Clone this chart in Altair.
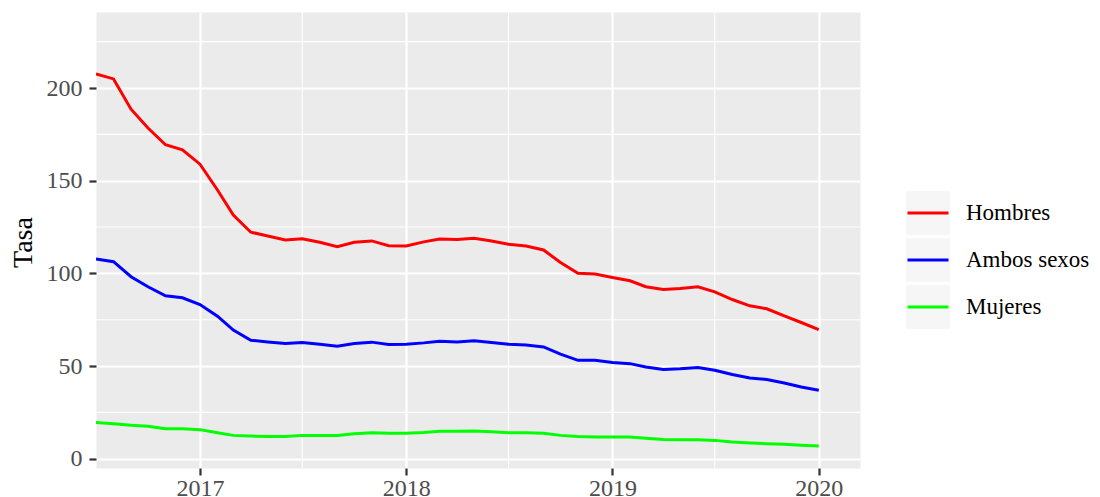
import altair as alt
import pandas as pd

# ---- data (monthly, Jul 2016 - Jan 2020) ----
meses = [d.strftime("%Y-%m-%d") for d in pd.date_range("2016-07-01", periods=43, freq="MS")]

hombres = [207.6, 204.9, 188.6, 178.4, 169.4, 166.7, 158.9, 145.0, 131.5, 122.2, 120.2, 118.0,
           118.7, 116.8, 114.4, 116.8, 117.5, 114.9,
           114.8, 117.0, 118.5, 118.3, 119.0, 117.5, 115.7, 114.8, 112.6, 105.9, 100.0, 99.6,
           97.8, 96.0, 92.8, 91.3, 91.9, 92.8, 90.0, 85.9, 82.5, 80.9, 77.1, 73.5, 69.7]
ambos = [107.7, 106.3, 98.2, 92.8, 87.9, 86.8, 83.2, 76.9, 69.4, 63.9, 63.0, 62.2,
         62.7, 61.8, 60.7, 62.2, 62.9, 61.6,
         61.8, 62.5, 63.4, 63.0, 63.6, 62.7, 61.8, 61.4, 60.3, 56.4, 53.1, 53.1,
         51.9, 51.3, 49.5, 48.1, 48.5, 49.2, 47.7, 45.4, 43.6, 42.7, 40.9, 38.7, 36.9]
mujeres = [19.5, 18.9, 18.0, 17.5, 16.2, 16.2, 15.7, 14.0, 12.6, 12.2, 12.0, 12.0,
           12.6, 12.6, 12.6, 13.5, 14.0, 13.8,
           13.8, 14.1, 14.8, 14.8, 15.0, 14.6, 14.0, 14.0, 13.8, 12.6, 12.0, 11.7,
           11.7, 11.7, 11.0, 10.4, 10.3, 10.3, 9.9, 9.0, 8.5, 8.1, 7.8, 7.3, 6.9]

series = ["Hombres", "Ambos sexos", "Mujeres"]
colores = ["#ff0000", "#0000ff", "#00ff00"]
anios = [2017, 2018, 2019, 2020]
y_ticks = [0, 50, 100, 150, 200]
y_minor = [25, 75, 125, 175, 225]
x_minor = ["2017-07-01", "2018-07-01", "2019-07-01"]

rows = []
for nombre, vals in zip(series, [hombres, ambos, mujeres]):
    for f, v in zip(meses, vals):
        rows.append({"fecha": f, "grupo": nombre, "fondo": nombre + " ", "tasa": v})
df = pd.DataFrame(rows)

FONT = "Liberation Serif"

xscale = alt.Scale(type="utc", nice=False,
                   domain=[alt.DateTime(year=2016, month=7, date=1, utc=True),
                           alt.DateTime(year=2020, month=3, date=14, utc=True)])
yscale = alt.Scale(domain=[-5, 241], nice=False, zero=False)

xax = alt.Axis(values=[alt.DateTime(year=a, month=1, date=1, utc=True) for a in anios],
               format="%Y", labelPadding=1)
yax = alt.Axis(values=y_ticks, labelPadding=7, titleFont=FONT, titleFontSize=28,
               titleColor="black", titleFontWeight="normal", titleAngle=270,
               titleBaseline="bottom", titleAlign="center", titleX=-59, titleY=230)


def X(field):
    return alt.X(field, type="temporal", scale=xscale, title=None, axis=xax)


def Y(field):
    return alt.Y(field, type="quantitative", scale=yscale, title="Tasa", axis=yax)


# minor grid lines
minor_h = alt.Chart(pd.DataFrame({"v": y_minor})).mark_rule(color="white", strokeWidth=1.1).encode(
    y=Y("v")
)
minor_v = alt.Chart(pd.DataFrame({"f": x_minor})).mark_rule(color="white", strokeWidth=1.1).encode(
    x=X("f")
)

common_legend = dict(
    title=None, orient="none", legendX=810, legendY=179, padding=0,
    labelOffset=16, labelFont=FONT, labelFontSize=23,
)

# grey key backgrounds (legend only, no visible data)
fondo = alt.Chart(df).transform_filter("datum.tasa < -1000").mark_point(
    shape="square", filled=True
).encode(
    x=X("fecha"),
    y=Y("tasa"),
    color=alt.Color(
        "fondo:N",
        scale=alt.Scale(domain=[s + " " for s in series], range=["#f2f2f2"] * 3),
        legend=alt.Legend(symbolType="square", symbolSize=1936, symbolStrokeWidth=0,
                          labelExpr="''", rowPadding=3, **common_legend),
    ),
)

lineas = alt.Chart(df).mark_line(strokeWidth=3, clip=True).encode(
    x=X("fecha"),
    y=Y("tasa"),
    stroke=alt.Stroke(
        "grupo:N",
        scale=alt.Scale(domain=series, range=colores),
        legend=alt.Legend(symbolType="stroke", symbolSize=1681, symbolStrokeWidth=3,
                          labelColor="black", rowPadding=13, **common_legend),
    ),
)

chart = alt.layer(minor_h, minor_v, fondo, lineas).properties(
    width=764, height=456,
    autosize=alt.AutoSizeParams(type="none"),
    padding={"left": 88, "top": 4, "right": 232, "bottom": 28},
    background="white",
).configure_view(
    fill="#ebebeb", stroke="transparent"
).configure_axis(
    grid=True, gridColor="white", gridWidth=2.2, domain=False,
    tickColor="#333333", tickWidth=2.2, tickSize=7,
    labelFont=FONT, labelFontSize=24, labelColor="#4d4d4d",
)

chart.save("out.html", embed_options={"renderer": "svg", "actions": False})
